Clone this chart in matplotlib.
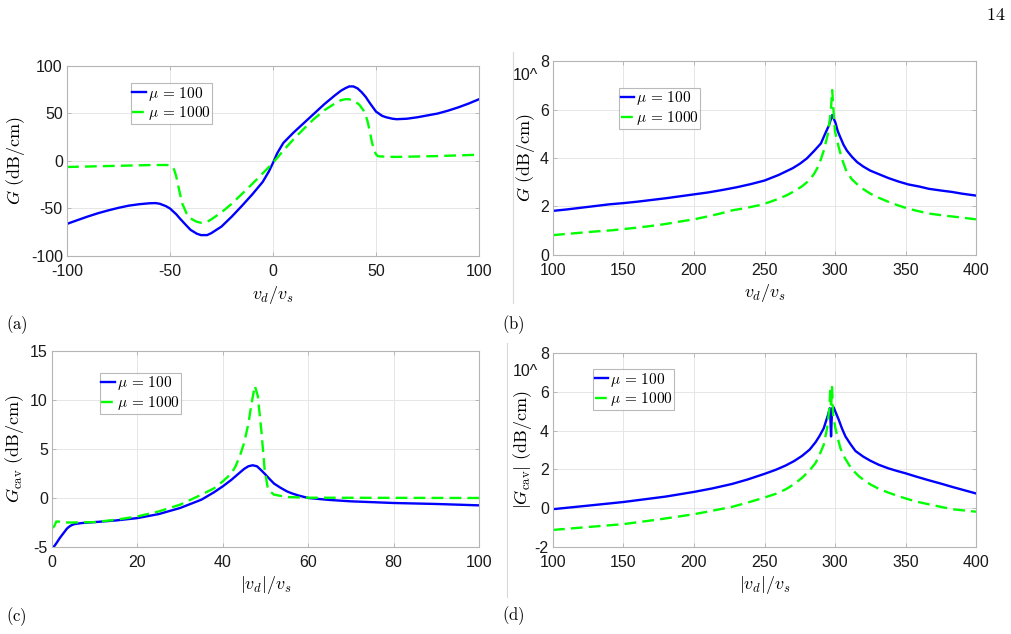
import matplotlib
matplotlib.use("Agg")
import matplotlib.pyplot as plt
from matplotlib.lines import Line2D

plt.rcParams['mathtext.fontset'] = 'cm'
plt.rcParams['font.family'] = ['Liberation Sans', 'DejaVu Sans']

# ---- panel (a): G vs v_d/v_s ----
xa_100 = [-100, -95, -90, -85, -80, -75, -70, -65, -60, -57, -55, -52, -50, -47, -45, -42,
          -40, -37, -35, -32, -30, -25, -20, -15, -10, -5, -2, 0, 2, 5, 10, 15, 20, 25, 30,
          33, 35, 37, 39, 41, 43, 45, 47, 50, 53, 55, 58, 60, 65, 70, 75, 80, 85, 90, 95, 100]
ga_100 = [-66.2, -62.3, -58.5, -55, -52, -49.3, -47, -45.5, -44.5, -44.3, -45, -47.5, -50,
          -56, -61, -68, -72.5, -76.5, -78, -78, -76, -69, -58.5, -47, -35, -22, -11, -2, 8,
          19, 30, 40, 50, 60, 69, 74, 76.5, 78.5, 78.5, 76.5, 72.5, 67.5, 61, 52, 47.5, 46,
          44.5, 44, 44.5, 46, 48, 50, 53, 56.5, 60.5, 65]
xa_1000 = [-100, -80, -60, -52, -50, -49, -48, -47, -46, -45, -44, -42, -40, -37, -35, -32,
           -30, -25, -20, -15, -10, -5, 0, 5, 10, 15, 20, 25, 30, 33, 35, 37, 40, 42, 44, 45,
           46, 47, 48, 49, 50, 51, 55, 60, 80, 100]
ga_1000 = [-6.3, -5.3, -4.3, -4.2, -4.5, -6, -9, -16, -26, -36, -45, -55, -60.5, -64, -65,
           -64, -61.5, -54, -45, -34.5, -24, -13, -2, 11, 23, 34, 44.5, 53.5, 60.5, 64, 65,
           65, 62.5, 59, 53, 48, 41, 31, 20, 12, 7, 5, 4.5, 4.3, 5.2, 6.6]

# ---- panel (b): G vs v_d/v_s ----
xb_100 = [100, 110, 120, 130, 140, 150, 160, 170, 180, 190, 200, 210, 220, 230, 240, 250,
          260, 270, 275, 280, 285, 290, 293, 295.6, 298, 300.3, 302, 303.8, 306, 308.5, 312,
          315.7, 320, 325, 330, 338, 345, 352, 360, 366.5, 375, 383, 390, 400]
gb_100 = [1.82, 1.88, 1.95, 2.02, 2.09, 2.14, 2.2, 2.27, 2.34, 2.42, 2.5, 2.58, 2.68, 2.79,
          2.92, 3.07, 3.3, 3.58, 3.76, 3.98, 4.28, 4.6, 5.0, 5.33, 5.77, 5.46, 5.1, 4.85, 4.55,
          4.3, 4.05, 3.83, 3.65, 3.48, 3.36, 3.17, 3.03, 2.91, 2.82, 2.73, 2.66, 2.6, 2.53,
          2.45]
xb_1000 = [100, 110, 120, 130, 142, 150, 160, 170, 180, 189, 200, 208, 218, 227, 236, 246,
           253, 260, 266, 272, 277, 281.5, 285, 288.5, 292, 295, 297, 298, 299, 300, 302.4,
           305, 308.3, 312, 316.6, 320, 325, 331, 338, 345, 352, 359, 366.5, 378, 389, 400]
gb_1000 = [0.82, 0.87, 0.92, 0.97, 1.02, 1.07, 1.13, 1.2, 1.28, 1.37, 1.47, 1.57, 1.7, 1.84,
           1.93, 2.05, 2.17, 2.32, 2.47, 2.66, 2.85, 3.07, 3.33, 3.69, 4.3, 5.0, 5.9, 6.8, 5.9,
           5.1, 4.5, 3.95, 3.42, 3.12, 2.87, 2.72, 2.53, 2.36, 2.19, 2.04, 1.91, 1.81, 1.71,
           1.62, 1.55, 1.47]

# ---- panel (c): G_cav vs |v_d|/v_s ----
xc_100 = [0, 0.6, 1.2, 1.8, 2.4, 3, 3.5, 4.1, 4.7, 5.3, 6.9, 10, 15, 20, 25, 30, 35, 38, 40,
          42, 44, 45, 46, 47, 48, 49, 50, 51, 52, 53.5, 55, 56, 57.6, 60, 65, 70, 80, 90, 100]
gc_100 = [-5.12, -4.88, -4.5, -4.1, -3.75, -3.41, -3.12, -2.9, -2.75, -2.66, -2.56, -2.46,
          -2.29, -2.05, -1.64, -1.02, -0.17, 0.6, 1.19, 1.85, 2.6, 2.97, 3.24, 3.34, 3.24,
          2.83, 2.39, 1.92, 1.47, 1.05, 0.68, 0.5, 0.27, 0, -0.2, -0.34, -0.51, -0.61, -0.75]
xc_1000 = [0, 0.5, 1, 1.5, 3, 5, 10, 15, 20, 25, 30, 35, 38, 40, 42, 43, 44, 45, 46, 46.7,
           47.5, 48.2, 49, 49.8, 50.6, 52, 55, 60, 100]
gc_1000 = [-3.07, -2.9, -2.4, -2.4, -2.5, -2.5, -2.46, -2.22, -1.88, -1.37, -0.68, 0.34, 1.0,
           1.7, 2.5, 3.24, 4.3, 5.63, 7.6, 9.56, 11.45, 10.4, 7.0, 2.9, 0.85, 0.34, 0.1, 0.03,
           0.0]

# ---- panel (d): |G_cav| vs |v_d|/v_s ----
xd_100 = [100, 115, 130, 150, 165, 180, 200, 213, 227, 238, 250, 258, 265, 271, 276.7, 282,
          286.2, 289, 292, 295, 296.3, 296.8, 297.2, 297.6, 298, 299, 301, 302.7, 305, 307.4,
          311, 314.5, 320, 325, 331, 338, 344, 350, 358, 366, 375, 383, 392, 400]
gd_100 = [-0.05, 0.06, 0.17, 0.32, 0.46, 0.6, 0.84, 1.02, 1.25, 1.48, 1.77, 1.98, 2.2, 2.43,
          2.7, 3.02, 3.4, 3.72, 4.12, 4.8, 5.15, 4.5, 3.7, 4.5, 5.15, 5.2, 4.85, 4.55, 4.1, 3.7,
          3.3, 2.95, 2.66, 2.45, 2.24, 2.05, 1.92, 1.8, 1.62, 1.45, 1.27, 1.1, 0.92, 0.76]
xd_1000 = [100, 125, 150, 175, 200, 213, 227, 238, 250, 258, 265, 271, 276.7, 282, 286.2, 289,
           292, 294.4, 296, 296.7, 297.2, 297.9, 298.7, 300.3, 302, 303.8, 306.5, 309.8, 313,
           316.9, 321, 325, 331, 338, 345, 352, 359, 366.5, 375, 383, 392, 400]
gd_1000 = [-1.12, -0.97, -0.82, -0.58, -0.31, -0.13, 0.07, 0.29, 0.55, 0.74, 0.97, 1.24, 1.57,
           1.95, 2.33, 2.75, 3.27, 4.12, 5.15, 6.17, 5.15, 6.25, 4.8, 4.12, 3.6, 3.1, 2.65,
           2.25, 1.93, 1.65, 1.42, 1.23, 1.0, 0.8, 0.62, 0.46, 0.32, 0.2, 0.07, -0.05, -0.12,
           -0.18]

labels = [r'$\mu\,=\,100$', r'$\mu\,=\,1000$']
BLUE = '#0000ff'
GREEN = '#00ff00'
W, H = 1012, 634


def px(x0, y0, x1, y1):
    # pixel box (top-left origin) -> figure fraction rect
    return [x0 / W, 1 - y1 / H, (x1 - x0) / W, (y1 - y0) / H]


def style(ax, xlim, ylim, xticks, yticks):
    ax.set_xlim(*xlim)
    ax.set_ylim(*ylim)
    ax.set_xticks(xticks)
    ax.set_yticks(yticks)
    ax.set_xticklabels([str(t) for t in xticks])
    ax.set_yticklabels([str(t) for t in yticks])
    ax.grid(True, color='#e6e6e6', lw=0.7)
    ax.set_axisbelow(True)
    for s in ax.spines.values():
        s.set_color('#b5b5b5')
        s.set_linewidth(0.8)
    ax.tick_params(direction='in', length=3, width=0.6, color='#b0b0b0',
                   labelsize=11.5, labelcolor='#1a1a1a', top=True, right=True,
                   labeltop=False, labelright=False)
    ax.tick_params(axis='x', pad=6)
    ax.tick_params(axis='y', pad=3)


def curves(ax, x1, y1, x2, y2, anchor):
    ax.plot(x1, y1, color=BLUE, lw=1.7, label=labels[0])
    ax.plot(x2, y2, color=GREEN, lw=1.7, ls=(0, (5, 2.6)), label=labels[1])
    leg = ax.legend(loc='upper left', bbox_to_anchor=anchor, borderaxespad=0,
                    fontsize=11, frameon=True, fancybox=False, handlelength=0.9,
                    handletextpad=0.1, borderpad=0.1, labelspacing=0.12)
    leg.get_frame().set_edgecolor('#a8a8a8')
    leg.get_frame().set_linewidth(0.8)


def main():
    fig = plt.figure(figsize=(W / 100, H / 100), dpi=100)

    axa = fig.add_axes(px(67, 66, 479, 256))
    axb = fig.add_axes(px(553, 61, 976, 255))
    axc = fig.add_axes(px(52, 351, 479, 547))
    axd = fig.add_axes(px(553, 353, 976, 547))

    curves(axa, xa_100, ga_100, xa_1000, ga_1000, (0.155, 0.91))
    style(axa, (-100, 100), (-100, 100), [-100, -50, 0, 50, 100], [-100, -50, 0, 50, 100])
    axa.set_xlabel(r'$v_d/v_s$', fontsize=13, va='center')
    axa.set_ylabel(r'$G\ (\mathrm{dB/cm})$', fontsize=13, va='center')
    axa.xaxis.set_label_coords(0.5, -0.205)
    axa.yaxis.set_label_coords(-0.124, 0.5)

    curves(axb, xb_100, gb_100, xb_1000, gb_1000, (0.156, 0.861))
    style(axb, (100, 400), (0, 8), [100, 150, 200, 250, 300, 350, 400], [0, 2, 4, 6, 8])
    axb.set_xlabel(r'$v_d/v_s$', fontsize=13, va='center')
    axb.set_ylabel(r'$G\ (\mathrm{dB/cm})$', fontsize=13, va='center')
    axb.xaxis.set_label_coords(0.5, -0.196)
    axb.yaxis.set_label_coords(-0.066, 0.5)

    curves(axc, xc_100, gc_100, xc_1000, gc_1000, (0.112, 0.888))
    style(axc, (0, 100), (-5, 15), [0, 20, 40, 60, 80, 100], [-5, 0, 5, 10, 15])
    axc.set_xlabel(r'$|v_d|/v_s$', fontsize=13, va='center')
    axc.set_ylabel(r'$G_{\mathrm{cav}}\ (\mathrm{dB/cm})$', fontsize=13, va='center')
    axc.xaxis.set_label_coords(0.5, -0.194)
    axc.yaxis.set_label_coords(-0.087, 0.5)

    curves(axd, xd_100, gd_100, xd_1000, gd_1000, (0.0946, 0.9175))
    style(axd, (100, 400), (-2, 8), [100, 150, 200, 250, 300, 350, 400], [-2, 0, 2, 4, 6, 8])
    axd.set_xlabel(r'$|v_d|/v_s$', fontsize=13, va='center')
    axd.set_ylabel(r'$|G_{\mathrm{cav}}|\ (\mathrm{dB/cm})$', fontsize=13, va='center')
    axd.xaxis.set_label_coords(0.5, -0.196)
    axd.yaxis.set_label_coords(-0.073, 0.5)

    # exponent marks left over from the source figure
    fig.text(513 / W, 1 - 76 / H, '10^', fontsize=11.5, ha='left', va='center', color='#1a1a1a')
    fig.text(513 / W, 1 - 372 / H, '10^', fontsize=11.5, ha='left', va='center', color='#1a1a1a')

    # faint crop edges
    fig.add_artist(Line2D([513 / W, 513 / W], [1 - 52 / H, 1 - 303 / H], color='#d9d9d9', lw=0.8))
    fig.add_artist(Line2D([507 / W, 507 / W], [1 - 343 / H, 1 - 597 / H], color='#d9d9d9', lw=0.8))

    # panel tags and page number
    for tag, x, y in [('(a)', 6, 325), ('(b)', 502, 325), ('(c)', 6, 617), ('(d)', 502, 616)]:
        fig.text(x / W, 1 - y / H, r'$\mathrm{' + tag + '}$', fontsize=12, ha='left', va='center')
    fig.text(1006 / W, 1 - 15 / H, r'$\mathrm{14}$', fontsize=13, ha='right', va='center')

    fig.savefig('out.png', dpi=100)


if __name__ == "__main__":
    main()
